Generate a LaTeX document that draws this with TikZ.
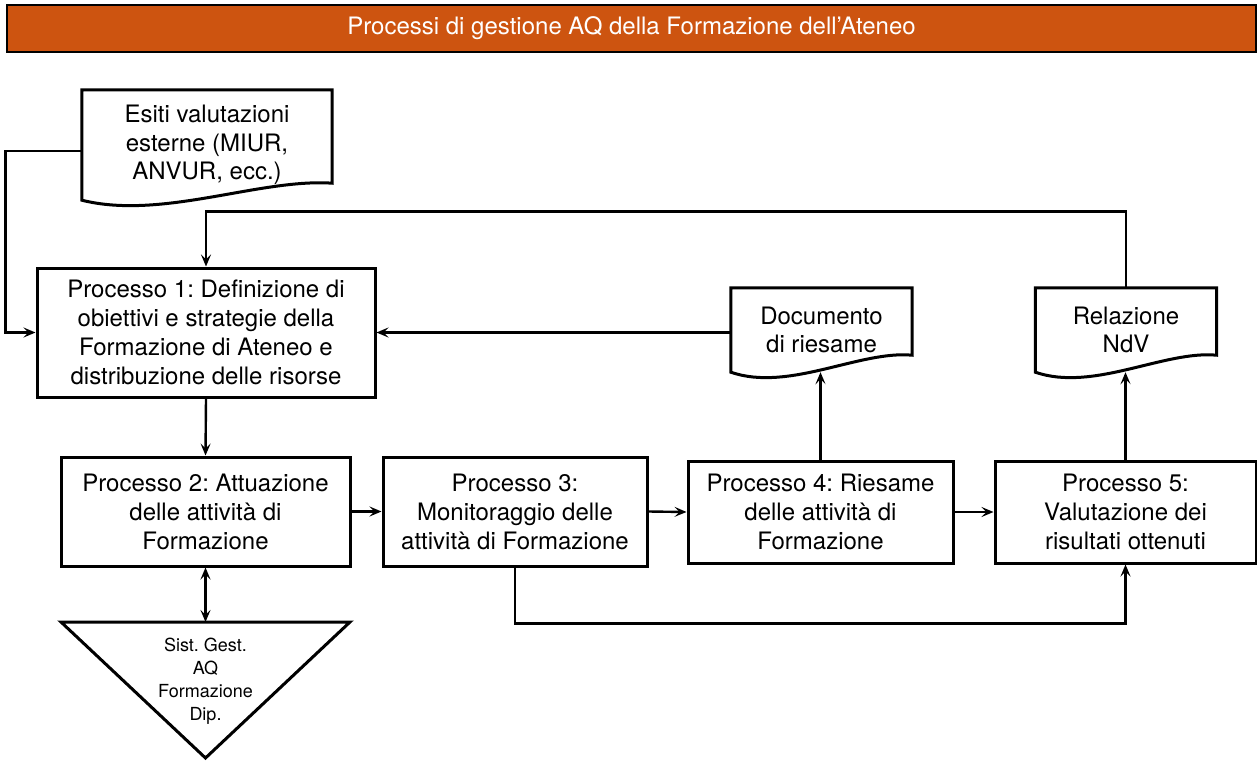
\documentclass[tikz,border=0pt]{standalone}
\usepackage{fontspec}
\setmainfont{TeX Gyre Heros}
\usetikzlibrary{arrows.meta,calc}
\definecolor{titleorange}{RGB}{205,84,16}
\tikzset{
  boxline/.style={line width=3pt},
  procbox/.style={draw, boxline, align=center, inner sep=0pt,
     font={\fontsize{24}{29}\selectfont}},
  doctext/.style={align=center, inner sep=0pt,
     font={\fontsize{24}{28.5}\selectfont}},
  conn/.style={line width=2.4pt},
  arr/.style={conn, -{Stealth[length=12pt,width=10pt,inset=5pt]}},
  darr/.style={conn, {Stealth[length=12pt,width=10pt,inset=5pt]}-{Stealth[length=12pt,width=10pt,inset=5pt]}}
}
\newcommand\drawdoc[1]{%
  \draw[boxline] ($(#1.south east)+(0,-17)$) -- (#1.north east) -- (#1.north west) -- (#1.south west)
    .. controls ($(#1.south west)!0.32!(#1.south east)+(0,20)$) and ($(#1.south west)!0.71!(#1.south east)+(0,-22)$) .. ($(#1.south east)+(0,-17)$) -- cycle;}
\begin{document}
\frenchspacing
\begin{tikzpicture}[x=1pt,y=-1pt]
\useasboundingbox (0,0) rectangle (1257,760);
% title bar
\node[draw=black, fill=titleorange, line width=2.4pt, minimum width=1249pt, minimum height=47pt,
  inner sep=0pt, text=white, font={\fontsize{24}{28}\selectfont}] (title) at (631.5,28.5)
  {Processi di gestione AQ della Formazione dell’Ateneo};
% documents
\node[doctext, minimum width=250pt, minimum height=110pt] (esiti) at (207,145)
  {Esiti valutazioni\\esterne (MIUR,\\ANVUR, ecc.)};
\drawdoc{esiti}
\node[doctext, minimum width=181pt, minimum height=84pt] (doc) at (821.5,330)
  {Documento\\di riesame};
\drawdoc{doc}
\node[doctext, minimum width=181pt, minimum height=84pt] (rel) at (1126,330)
  {Relazione\\NdV};
\drawdoc{rel}
% process boxes
\node[procbox, minimum width=338pt, minimum height=129pt] (p1) at (206,332.5)
  {Processo 1: Definizione di\\obiettivi e strategie della\\Formazione di Ateneo e\\distribuzione delle risorse};
\node[procbox, minimum width=289pt, minimum height=109pt] (p2) at (205.5,511.5)
  {Processo 2: Attuazione\\delle attività di\\Formazione};
\node[procbox, minimum width=264pt, minimum height=109pt] (p3) at (515,511.5)
  {Processo 3:\\Monitoraggio delle\\attività di Formazione};
\node[procbox, minimum width=265pt, minimum height=102pt] (p4) at (820.5,512)
  {Processo 4: Riesame\\delle attività di\\Formazione};
\node[procbox, minimum width=261pt, minimum height=102pt] (p5) at (1125.5,512)
  {Processo 5:\\Valutazione dei\\risultati ottenuti};
% triangle
\coordinate (trinw) at (61,622);
\coordinate (trine) at (350,622);
\coordinate (triapex) at (205.5,758);
\coordinate (tritop) at (205.5,622);
\draw[boxline, line join=miter] (trinw) -- (trine) -- (triapex) -- cycle;
\node[align=center, inner sep=0pt, font={\fontsize{18}{23}\selectfont}] (tritext) at (205.5,681.5)
  {Sist. Gest.\\AQ\\Formazione\\Dip.};
% connectors
\draw[arr] ($(esiti.west)+(0,6)$) -| ($(p1.west)+(-30,0)$) -- (p1.west);
\draw[arr] (rel.north) |- ($(p1.north)+(0,-55)$) -- (p1.north);
\draw[arr] (doc.west |- p1.east) -- (p1.east);
\draw[arr] (p1.south) -- (p2.north);
\draw[darr] (p2.south) -- (tritop);
\draw[arr] (p2.east) -- (p3.west);
\draw[arr] (p3.east) -- (p4.west);
\draw[arr] (p4.east) -- (p5.west);
\draw[arr] (p4.north) -- (p4.north |- doc.south);
\draw[arr] (p5.north) -- (p5.north |- rel.south);
\draw[arr] (p3.south) -- ++(0,56) -| (p5.south);
\end{tikzpicture}
\end{document}
